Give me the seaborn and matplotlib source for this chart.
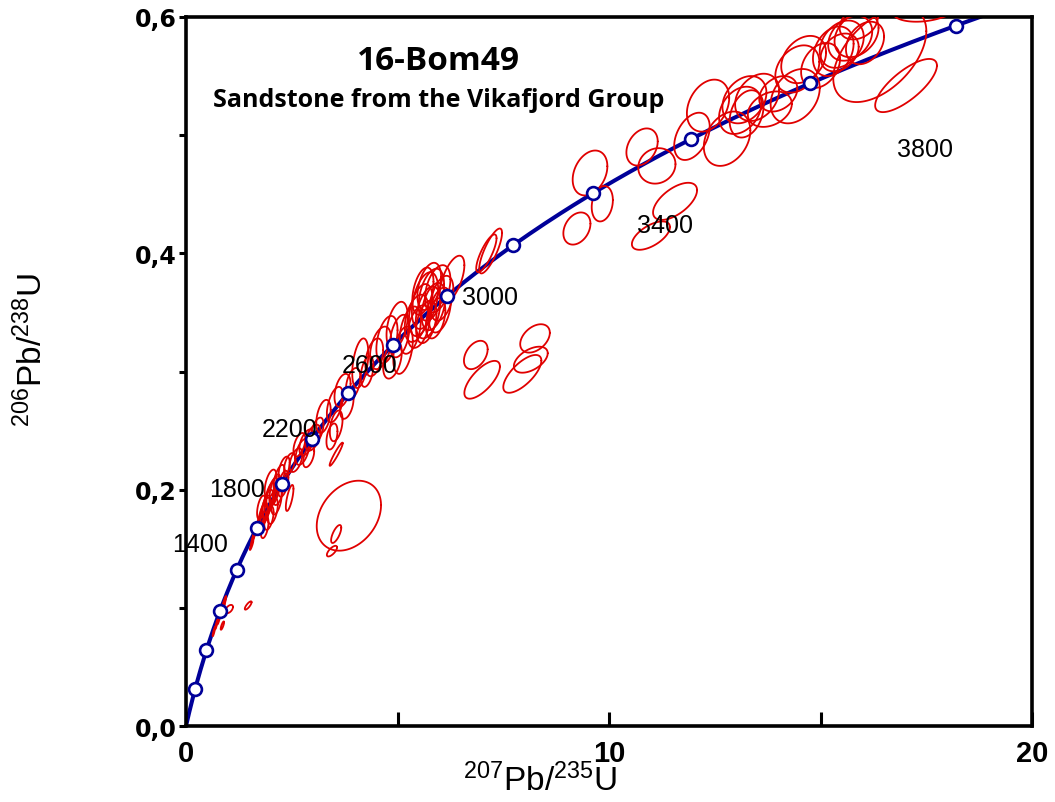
import matplotlib
matplotlib.use("Agg")
import matplotlib.pyplot as plt
import numpy as np
import pandas as pd
import seaborn as sns

# decay constants (1/yr) for the concordia curve
lam238 = 1.55125e-10
lam235 = 9.8485e-10

# concordia age markers (Ma)
marker_ages = [200, 400, 600, 800, 1000, 1200, 1400, 1600, 1800, 2000,
               2200, 2400, 2600, 2800, 3000]

# age labels as they sit on the chart
label_text = ["1400", "1800", "2200", "2600", "3000", "3400", "3800"]
label_x = [0.33, 1.20, 2.46, 4.35, 7.19, 11.32, 17.47]
label_y = [0.154, 0.2006, 0.251, 0.3055, 0.363, 0.424, 0.488]

# error ellipses: centre, half extents, correlation
ell_x = [0.66, 0.72, 0.78, 0.86, 0.90, 1.02, 0.86, 1.47, 1.55, 1.58, 1.62,
         1.75, 1.82, 1.88, 1.93, 1.98, 2.04, 2.10, 2.14, 2.20, 2.05, 1.96,
         2.30, 2.45, 1.86, 2.32, 2.45, 1.78, 2.00, 2.18,
         2.60, 2.75, 2.85, 3.00, 3.10, 2.90, 2.68,
         3.25, 3.52, 3.55, 3.45, 3.55, 3.85, 3.55, 3.45,
         3.70, 3.95, 4.12, 4.28, 4.45, 3.80,
         4.60, 4.75, 4.99, 5.13, 5.05, 5.30, 4.88,
         5.45, 5.55, 5.65, 5.72, 5.80, 5.85, 5.95, 5.60, 6.05, 6.29, 5.90,
         5.50, 5.75, 6.00, 5.68,
         7.10, 7.20,
         6.85, 7.00, 8.25, 8.15, 7.95,
         9.55, 9.84, 9.24, 10.78, 11.13, 11.56, 10.99, 11.96, 12.34, 12.79,
         13.10, 13.20, 13.25, 13.50, 13.80, 14.00, 14.40, 14.45, 14.60, 15.00,
         15.30, 15.50, 15.70, 15.85, 15.45, 16.40, 17.02, 17.50, 15.90, 16.05]
ell_y = [0.080, 0.086, 0.091, 0.098, 0.104, 0.099, 0.085, 0.102, 0.153, 0.158, 0.163,
         0.172, 0.178, 0.183, 0.188, 0.193, 0.197, 0.200, 0.190, 0.210, 0.182, 0.176,
         0.205, 0.193, 0.168, 0.218, 0.222, 0.185, 0.205, 0.198,
         0.225, 0.232, 0.240, 0.244, 0.250, 0.228, 0.238,
         0.262, 0.272, 0.254, 0.245, 0.230, 0.178, 0.1625, 0.148,
         0.284, 0.290, 0.307, 0.300, 0.312, 0.272,
         0.320, 0.327, 0.339, 0.318, 0.330, 0.335, 0.310,
         0.345, 0.352, 0.360, 0.350, 0.365, 0.355, 0.370, 0.368, 0.362, 0.378, 0.345,
         0.338, 0.372, 0.352, 0.342,
         0.400, 0.402,
         0.314, 0.293, 0.328, 0.310, 0.298,
         0.468, 0.442, 0.421, 0.490, 0.474, 0.444, 0.415, 0.499, 0.525, 0.497,
         0.521, 0.530, 0.518, 0.532, 0.522, 0.535, 0.533, 0.556, 0.564, 0.559,
         0.571, 0.577, 0.582, 0.585, 0.570, 0.568, 0.542, 0.608, 0.595, 0.578]
ell_sx = [0.03, 0.03, 0.04, 0.05, 0.05, 0.09, 0.04, 0.08, 0.04, 0.04, 0.05,
          0.08, 0.11, 0.12, 0.13, 0.13, 0.14, 0.13, 0.12, 0.13, 0.12, 0.11,
          0.12, 0.09, 0.09, 0.13, 0.13, 0.10, 0.14, 0.12,
          0.15, 0.16, 0.17, 0.18, 0.15, 0.13, 0.14,
          0.17, 0.19, 0.15, 0.13, 0.155, 0.76, 0.12, 0.12,
          0.19, 0.17, 0.19, 0.15, 0.21, 0.16,
          0.25, 0.25, 0.25, 0.23, 0.23, 0.25, 0.22,
          0.28, 0.28, 0.31, 0.29, 0.30, 0.28, 0.30, 0.25, 0.27, 0.29, 0.23,
          0.26, 0.28, 0.26, 0.24,
          0.24, 0.27,
          0.28, 0.42, 0.35, 0.40, 0.45,
          0.41, 0.25, 0.32, 0.37, 0.44, 0.52, 0.45, 0.42, 0.50, 0.55,
          0.50, 0.52, 0.40, 0.52, 0.52, 0.45, 0.58, 0.52, 0.53, 0.46,
          0.48, 0.52, 0.52, 0.52, 0.45, 1.10, 0.73, 0.80, 0.45, 0.45]
ell_sy = [0.004, 0.004, 0.005, 0.006, 0.006, 0.0035, 0.0035, 0.0035, 0.004, 0.004, 0.005,
          0.008, 0.011, 0.012, 0.012, 0.013, 0.013, 0.013, 0.011, 0.011, 0.011, 0.010,
          0.011, 0.011, 0.009, 0.010, 0.009, 0.010, 0.012, 0.011,
          0.010, 0.011, 0.011, 0.011, 0.011, 0.009, 0.010,
          0.014, 0.015, 0.013, 0.011, 0.0098, 0.0296, 0.0076, 0.0045,
          0.014, 0.013, 0.021, 0.013, 0.016, 0.012,
          0.018, 0.020, 0.020, 0.020, 0.018, 0.020, 0.016,
          0.020, 0.022, 0.024, 0.022, 0.022, 0.020, 0.020, 0.020, 0.019, 0.020, 0.017,
          0.018, 0.020, 0.019, 0.018,
          0.016, 0.019,
          0.012, 0.016, 0.012, 0.011, 0.016,
          0.019, 0.015, 0.0136, 0.0157, 0.015, 0.0157, 0.012, 0.020, 0.022, 0.023,
          0.020, 0.020, 0.020, 0.020, 0.015, 0.015, 0.023, 0.020, 0.020, 0.019,
          0.021, 0.020, 0.019, 0.019, 0.016, 0.040, 0.0225, 0.012, 0.014, 0.018]
ell_rho = [0.9, 0.9, 0.9, 0.9, 0.9, 0.5, 0.8, 0.8, 0.9, 0.9, 0.9,
           0.6, 0.6, 0.6, 0.6, 0.6, 0.6, 0.6, 0.5, 0.6, 0.5, 0.5,
           0.5, 0.7, 0.5, 0.5, 0.5, 0.5, 0.5, 0.5,
           0.5, 0.5, 0.5, 0.5, 0.5, 0.5, 0.5,
           0.4, 0.5, 0.4, 0.4, 0.95, 0.3, 0.7, 0.7,
           0.4, 0.4, 0.4, 0.4, 0.4, 0.4,
           0.4, 0.4, 0.4, 0.4, 0.4, 0.4, 0.4,
           0.4, 0.4, 0.4, 0.4, 0.4, 0.4, 0.4, 0.4, 0.4, 0.6, 0.4,
           0.4, 0.4, 0.4, 0.4,
           0.8, 0.8,
           0.4, 0.7, 0.4, 0.5, 0.7,
           0.3, 0.2, 0.3, 0.3, 0.1, 0.6, 0.6, 0.4, 0.3, 0.3,
           0.3, 0.3, 0.3, 0.3, 0.3, 0.3, 0.3, 0.3, 0.3, 0.3,
           0.3, 0.3, 0.3, 0.3, 0.3, 0.5, 0.75, 0.3, 0.3, 0.3]

curve_color = "#000099"
red = "#e00000"

sns.set_style("white")
plt.rcParams["font.family"] = ["Liberation Sans", "DejaVu Sans"]
plt.rcParams["mathtext.default"] = "regular"
plt.rcParams["text.color"] = "black"
plt.rcParams["axes.labelcolor"] = "black"
plt.rcParams["xtick.color"] = "black"
plt.rcParams["ytick.color"] = "black"

fig = plt.figure(figsize=(10.55, 8.03), dpi=100)
ax = fig.add_axes([0.1763, 0.0946, 0.802, 0.883])

# concordia curve
t_curve = np.linspace(0, 3100, 400) * 1e6
curve = pd.DataFrame({"x": np.exp(lam235 * t_curve) - 1,
                      "y": np.exp(lam238 * t_curve) - 1})
sns.lineplot(data=curve, x="x", y="y", sort=False, color=curve_color,
             linewidth=2.9, ax=ax, zorder=2)

# error ellipses
theta = np.linspace(0, 2 * np.pi, 120)
for cx, cy, sx, sy, r in zip(ell_x, ell_y, ell_sx, ell_sy, ell_rho):
    ex = cx + sx * np.cos(theta)
    ey = cy + sy * (r * np.cos(theta) + np.sqrt(1 - r ** 2) * np.sin(theta))
    ax.plot(ex, ey, color=red, linewidth=1.3, zorder=3)

# age markers
t_m = np.array(marker_ages) * 1e6
markers = pd.DataFrame({"x": np.exp(lam235 * t_m) - 1,
                        "y": np.exp(lam238 * t_m) - 1})
sns.scatterplot(data=markers, x="x", y="y", s=85, color="white",
                edgecolor=curve_color, linewidth=1.9, ax=ax, zorder=4)

for txt, lx, ly in zip(label_text, label_x, label_y):
    ax.text(lx, ly, txt, fontsize=18, ha="center", va="center", color="black", zorder=5)

ax.text(0.298, 0.939, "16-Bom49", transform=ax.transAxes, ha="center",
        va="center", fontsize=24, fontweight="bold", family="Open Sans", color="black")
ax.text(0.299, 0.884, "Sandstone from the Vikafjord Group", transform=ax.transAxes,
        ha="center", va="center", fontsize=18, fontweight="bold", family="Open Sans",
        color="black")

ax.set_xlim(0, 20)
ax.set_ylim(0, 0.6)
ax.set_xticks([0, 10, 20])
ax.set_xticks([5, 15], minor=True)
ax.set_yticks([0, 0.2, 0.4, 0.6])
ax.set_yticks([0.1, 0.3, 0.5], minor=True)
ax.set_xticklabels(["0", "10", "20"], fontsize=21, fontweight="bold",
                   family=["Liberation Sans Narrow", "Liberation Sans"])
ax.set_yticklabels(["0,0", "0,2", "0,4", "0,6"], fontsize=17, fontweight="bold",
                   family="DejaVu Sans")
ax.tick_params(axis="x", which="both", direction="in", length=10, width=2.2,
               pad=9, color="black", labelcolor="black", bottom=True)
ax.tick_params(axis="y", which="both", direction="out", length=5, width=2.2,
               pad=2, color="black", labelcolor="black", left=True)

for s in ax.spines.values():
    s.set_linewidth(2.6)
    s.set_color("black")

ax.set_xlabel(r"$^{207}$Pb/$^{235}$U", fontsize=24, color="black")
ax.set_ylabel(r"$^{206}$Pb/$^{238}$U", fontsize=24, color="black")
ax.xaxis.set_label_coords(0.418, -0.052)
ax.yaxis.set_label_coords(-0.162, 0.532)

fig.savefig("out.png", dpi=100)
